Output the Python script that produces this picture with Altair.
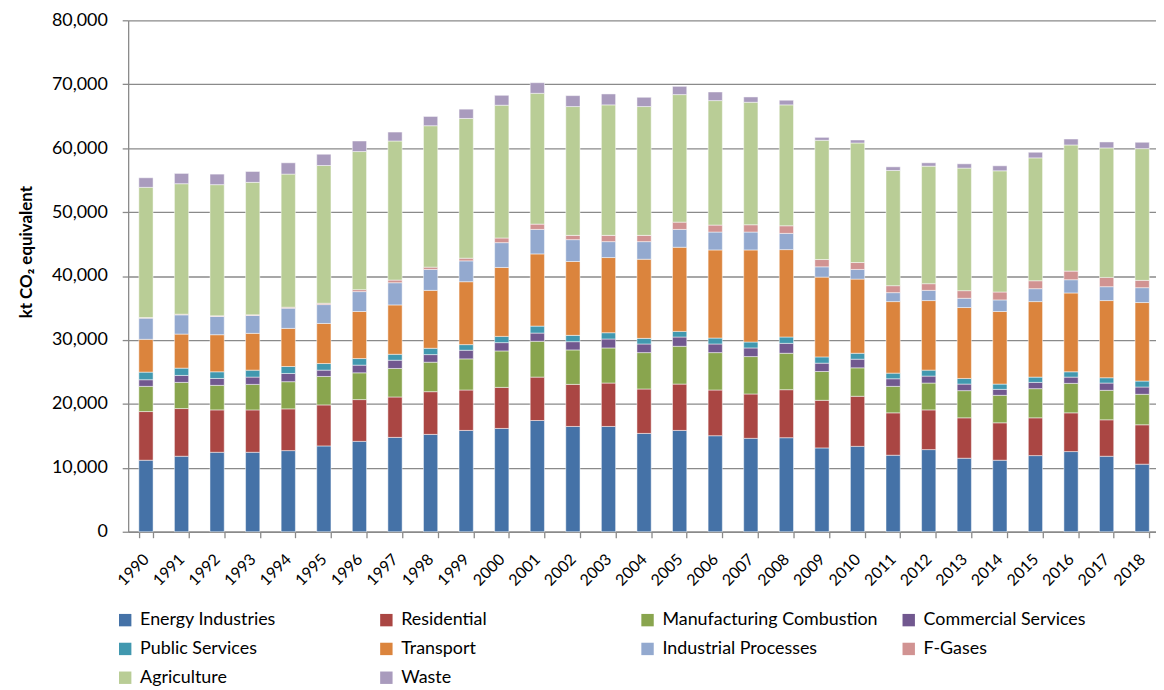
import altair as alt
import pandas as pd

years = [str(y) for y in range(1990, 2019)]

categories = ["Energy Industries", "Residential", "Manufacturing Combustion",
              "Commercial Services", "Public Services", "Transport",
              "Industrial Processes", "F-Gases", "Agriculture", "Waste"]

colors = ["#4572A7", "#AA4643", "#89A54E", "#71588F", "#4198AF",
          "#DB843D", "#93A9CF", "#D19392", "#B9CD96", "#A99BBD"]

energy = [11190, 11810, 12430, 12430, 12690, 13420, 14140, 14760, 15230, 15850,
          16160, 17400, 16470, 16470, 15380, 15850, 15020, 14610, 14710, 13110,
          13360, 11970, 12850, 11500, 11190, 11910, 12540, 11810, 10570]
residential = [7610, 7460, 6630, 6630, 6530, 6420, 6530, 6320, 6680, 6320,
               6420, 6790, 6580, 6790, 6950, 7250, 7150, 6940, 7510, 7450,
               7830, 6630, 6210, 6320, 5850, 5910, 6060, 5700, 6160]
manufacturing = [3940, 4090, 3840, 3990, 4250, 4450, 4190, 4460, 4610, 4870,
                 5700, 5600, 5390, 5490, 5690, 5910, 5850, 5850, 5700, 4510,
                 4450, 4140, 4200, 4250, 4300, 4560, 4610, 4610, 4770]
commercial = [1040, 1090, 1080, 1140, 1290, 990, 1200, 1290, 1190, 1350,
              1300, 1290, 1290, 1400, 1350, 1450, 1350, 1350, 1550, 1300,
              1350, 1190, 1090, 1030, 930, 980, 980, 1140, 1140]
public = [1190, 1140, 1040, 1090, 1090, 1030, 1030, 930, 990, 880,
          980, 1090, 990, 980, 880, 880, 930, 930, 990, 980,
          930, 880, 930, 880, 830, 830, 830, 830, 930]
transport = [5130, 5330, 5800, 5750, 5960, 6270, 7360, 7720, 9060, 9840,
             10780, 11290, 11550, 11760, 12380, 13160, 13780, 14400, 13670, 12480,
             11600, 11190, 10880, 11090, 11350, 11810, 12330, 12070, 12280]
industrial = [3310, 3010, 2850, 2800, 3160, 2950, 3110, 3470, 3270, 3260,
              3880, 3830, 3420, 2490, 2750, 2790, 2800, 2800, 2540, 1610,
              1510, 1400, 1600, 1450, 1810, 2020, 2070, 2170, 2330]
fgases = [90, 100, 100, 100, 150, 210, 310, 420, 360, 420,
          730, 830, 670, 980, 980, 1140, 1090, 1140, 1190, 1140,
          1080, 1090, 1040, 1190, 1240, 1240, 1350, 1450, 1140]
agriculture = [20370, 20410, 20520, 20720, 20820, 21550, 21600, 21750, 22120, 21860,
               20770, 20460, 20150, 20410, 20150, 19950, 19470, 19160, 18910, 18650,
               18700, 18020, 18390, 19170, 18960, 19220, 19730, 20260, 20610]
waste = [1500, 1610, 1650, 1710, 1770, 1760, 1650, 1400, 1450, 1450,
         1550, 1660, 1710, 1710, 1450, 1290, 1350, 830, 730, 460,
         470, 570, 520, 670, 780, 880, 930, 930, 990]

series = [energy, residential, manufacturing, commercial, public,
          transport, industrial, fgases, agriculture, waste]

rows = []
for ci, (cat, vals) in enumerate(zip(categories, series)):
    for y, v in zip(years, vals):
        rows.append({"year": y, "sector": cat, "value": v, "idx": ci})
df = pd.DataFrame(rows)

FONT = "Lato"
GRID = "#8a8a8a"

chart = alt.Chart(df).mark_bar(stroke="white", strokeWidth=0.6, strokeOpacity=0.8).encode(
    x=alt.X("year:N", sort=years,
            scale=alt.Scale(paddingInner=0.6, paddingOuter=0.3, range=[0, 1039]),
            axis=alt.Axis(title=None, labelAngle=-45, labelAlign="right",
                          labelBaseline="middle", labelFontSize=16, labelFont=FONT,
                          labelColor="#000000", labelPadding=19, tickSize=6,
                          tickBand="extent", tickColor=GRID, domainColor=GRID,
                          tickWidth=1.3, domainWidth=1.3)),
    y=alt.Y("value:Q",
            scale=alt.Scale(domain=[0, 80000], nice=False),
            axis=alt.Axis(title="kt CO₂ equivalent", values=list(range(0, 80001, 10000)),
                          format=",d", labelFontSize=18, labelFont=FONT,
                          labelColor="#000000", labelPadding=15, tickSize=6,
                          tickColor=GRID, domainColor=GRID, gridColor=GRID,
                          gridWidth=1.3, tickWidth=1.3, domainWidth=1.3,
                          titleFont=FONT, titleFontSize=17, titleFontWeight="bold",
                          titleColor="#000000", titleX=-102, titleY=233,
                          titleBaseline="middle", titleAngle=270)),
    color=alt.Color("sector:N",
                    scale=alt.Scale(domain=categories, range=colors),
                    legend=alt.Legend(title=None, orient="none", direction="horizontal",
                                      legendX=-12, legendY=595,
                                      columns=4, gridAlign="all", columnPadding=22,
                                      rowPadding=11, symbolType="square", symbolSize=156,
                                      symbolStrokeWidth=0, labelFont=FONT,
                                      labelFontSize=18, labelColor="#000000",
                                      labelOffset=6, padding=0, labelLimit=400)),
    order=alt.Order("idx:Q", sort="ascending"),
    tooltip=["year", "sector", "value"],
).properties(
    width=1035,
    height=515,
    autosize=alt.AutoSizeParams(type="none"),
    padding={"left": 121, "top": 10, "right": 0, "bottom": 162},
).configure_view(stroke=None).configure_axisY(grid=True).configure_axisX(grid=False)

chart.save("out.html", embed_options={"renderer": "svg", "actions": False})
